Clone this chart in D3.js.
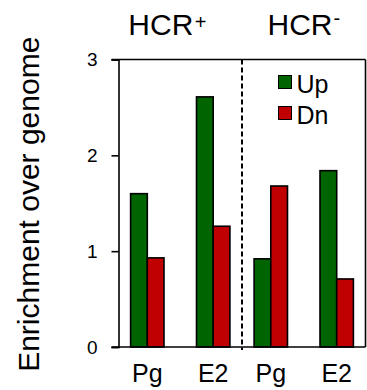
<!DOCTYPE html>
<html>
<head>
<meta charset="utf-8">
<script src="https://cdn.jsdelivr.net/npm/d3@7"></script>
<style>
  html, body { margin: 0; padding: 0; background: #fff; }
  text { font-family: "Liberation Sans", Arial, sans-serif; fill: #000; }
</style>
</head>
<body>
<div id="chart"></div>
<script>
/* Enrichment over genome, HCR+ vs HCR- panels */
(function () {
  "use strict";

  var panels = ["HCR+", "HCR-"];
  var panelLabels = ["HCR", "HCR"];
  var panelSups = ["+", "-"];
  var conditions = ["Pg", "E2"];
  var series = ["Up", "Dn"];
  var upValues = [1.60, 2.61, 0.92, 1.84];
  var dnValues = [0.93, 1.26, 1.68, 0.71];
  var yTicks = [0, 1, 2, 3];
  var colors = { Up: "#006400", Dn: "#c00000" };

  var W = 367, H = 390;
  var m = { l: 118.5, r: 1.5, t: 59.5, b: 43 };
  var iw = W - m.l - m.r, ih = H - m.t - m.b;

  var svg = d3.select("#chart").append("svg").attr("width", W).attr("height", H);
  var g = svg.append("g").attr("transform", "translate(" + m.l + "," + m.t + ")");

  var y = d3.scaleLinear().domain([0, 3]).range([ih, 0]);
  var xPanel = d3.scaleBand().domain(panels).range([0, iw]);
  var xCond = d3.scalePoint().domain(conditions).range([0, xPanel.bandwidth()]).padding(0.437);
  var xSer = d3.scaleBand().domain(series).range([-16.7, 16.7]);

  // rows of data
  var rows = [];
  panels.forEach(function (p, pi) {
    conditions.forEach(function (c, ci) {
      var k = pi * conditions.length + ci;
      rows.push({ panel: p, cond: c, Up: upValues[k], Dn: dnValues[k] });
    });
  });

  // bars
  rows.forEach(function (r) {
    var cx = xPanel(r.panel) + xCond(r.cond);
    series.forEach(function (s) {
      g.append("rect")
        .attr("x", cx + xSer(s))
        .attr("y", y(r[s]))
        .attr("width", xSer.bandwidth())
        .attr("height", y(0) - y(r[s]))
        .attr("fill", colors[s])
        .attr("stroke", "#000")
        .attr("stroke-width", 1.6);
    });
    g.append("text")
      .attr("x", cx).attr("y", ih + 35)
      .attr("text-anchor", "middle")
      .style("font-size", "25px")
      .text(r.cond);
  });

  // frame
  g.append("line").attr("x1", -7).attr("x2", iw).attr("y1", 0).attr("y2", 0).attr("stroke", "#000").attr("stroke-width", 1.6);
  g.append("line").attr("x1", iw).attr("x2", iw).attr("y1", 0).attr("y2", ih).attr("stroke", "#000").attr("stroke-width", 1.6);

  // y axis
  var yAxis = g.append("g")
    .call(d3.axisLeft(y).tickValues(yTicks).tickSize(7).tickPadding(14).tickFormat(d3.format("d")));
  yAxis.select(".domain").attr("stroke-width", 1.6);
  yAxis.selectAll(".tick line").attr("stroke-width", 1.6);
  yAxis.selectAll("text").style("font-size", "19px").attr("font-family", null);

  // x baseline
  g.append("line").attr("x1", -7).attr("x2", iw).attr("y1", ih).attr("y2", ih).attr("stroke", "#000").attr("stroke-width", 1.6);

  // panel divider
  g.append("line")
    .attr("x1", xPanel(panels[1])).attr("x2", xPanel(panels[1]))
    .attr("y1", 0).attr("y2", ih + 3)
    .attr("stroke", "#000").attr("stroke-width", 2)
    .attr("stroke-dasharray", "5,3");

  // panel titles
  var titleDx = [9.8, 25.5];
  var supDx = [1.5, 1];
  var supDy = [-6, -10];
  panels.forEach(function (p, i) {
    var t = g.append("text")
      .attr("x", xPanel(p) + titleDx[i])
      .attr("y", -24.5)
      .style("font-size", "30px");
    t.append("tspan").text(panelLabels[i]);
    t.append("tspan").attr("dx", supDx[i]).attr("dy", supDy[i]).style("font-size", "20px").text(panelSups[i]);
  });

  // legend
  var leg = g.append("g").attr("transform", "translate(" + (iw - 87) + ",16)");
  series.forEach(function (s, i) {
    leg.append("rect")
      .attr("x", 0).attr("y", i * 31)
      .attr("width", 13).attr("height", 13)
      .attr("fill", colors[s]).attr("stroke", "#000").attr("stroke-width", 1);
    leg.append("text")
      .attr("x", 18).attr("y", i * 31 + 17.5)
      .style("font-size", "25px")
      .text(s);
  });

  // y label
  svg.append("text")
    .attr("transform", "translate(39," + (m.t + ih / 2 + 1) + ") rotate(-90)")
    .attr("text-anchor", "middle")
    .style("font-size", "30px")
    .text("Enrichment over genome");
})();
</script>
</body>
</html>
